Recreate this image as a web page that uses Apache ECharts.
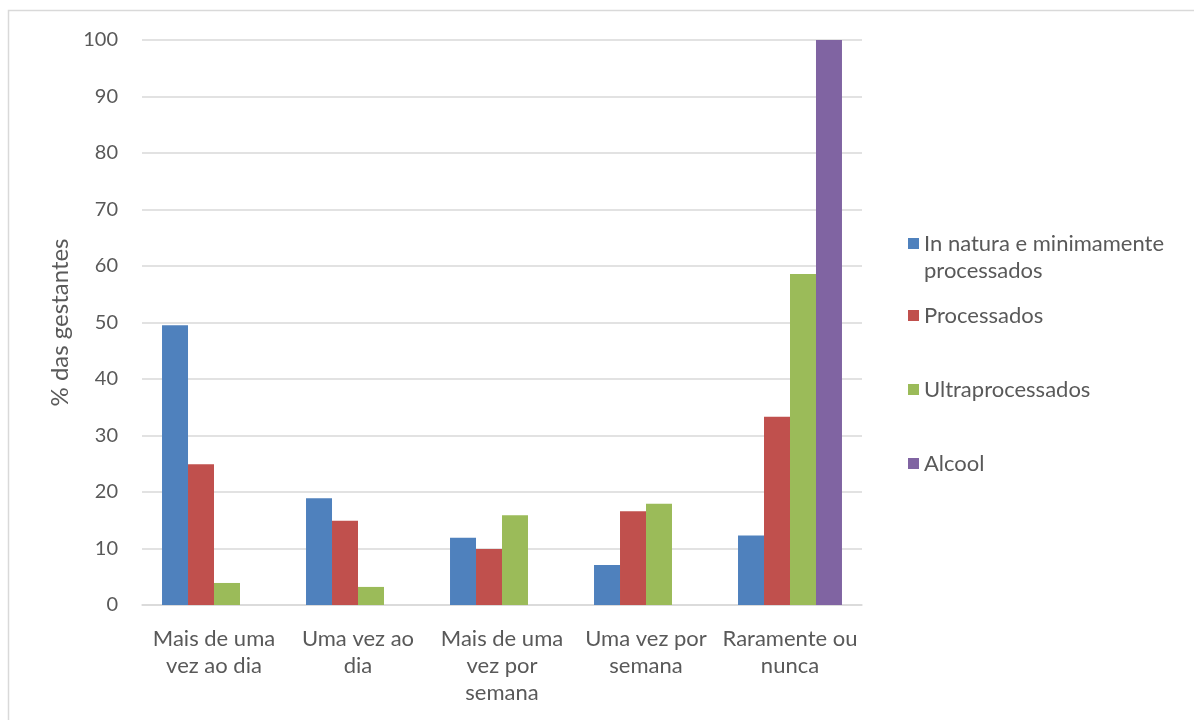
<!DOCTYPE html>
<html>
<head>
<meta charset="utf-8">
<script src="https://cdn.jsdelivr.net/npm/echarts@6/dist/echarts.min.js"></script>
<style>
  html, body { margin: 0; padding: 0; background: #ffffff; }
  #chart { width: 1194px; height: 720px; }
</style>
</head>
<body>
<div id="chart"></div>
<script>
// Frequency of consumption by food group
const categories = [
  'Mais de uma\nvez ao dia',
  'Uma vez ao\ndia',
  'Mais de uma\nvez por\nsemana',
  'Uma vez por\nsemana',
  'Raramente ou\nnunca'
];
const seriesNames = ['In natura e minimamente processados', 'Processados', 'Ultraprocessados', 'Alcool'];
const inNatura = [49.5, 18.9, 11.9, 7.1, 12.3];
const processados = [24.9, 14.9, 9.9, 16.6, 33.3];
const ultraprocessados = [3.9, 3.2, 15.9, 17.9, 58.6];
const alcool = [null, null, null, null, 100];
const yTicks = [0, 10, 20, 30, 40, 50, 60, 70, 80, 90, 100];

const colors = ['#4F81BD', '#C0504D', '#9BBB59', '#8064A2'];
const FONT = 'Lato, "Open Sans", sans-serif';
const TEXT = '#595959';
const FS = 22;

const chart = echarts.init(document.getElementById('chart'));

function legendAt(name, top, extra) {
  return Object.assign({
    data: [name],
    left: 903,
    top: top,
    orient: 'vertical',
    itemWidth: 11,
    itemHeight: 11,
    itemGap: 0,
    icon: 'rect',
    selectedMode: false,
    textStyle: { fontFamily: FONT, fontSize: FS, color: TEXT, lineHeight: 27 }
  }, extra || {});
}

chart.setOption({
  animation: false,
  color: colors,
  graphic: [{
    type: 'rect',
    shape: { x: 8.5, y: 10.5, width: 1200, height: 730 },
    style: { fill: 'none', stroke: '#d9d9d9', lineWidth: 1.5 },
    silent: true
  }],
  grid: { left: 142, right: 332, top: 40, bottom: 115, containLabel: false },
  legend: [
    // blank first line keeps the swatch level with the first line of text
    legendAt(seriesNames[0], 198, {
      formatter: () => ' \nIn natura e minimamente\nprocessados'
    }),
    legendAt(seriesNames[1], 297),
    legendAt(seriesNames[2], 371),
    legendAt(seriesNames[3], 445)
  ],
  xAxis: {
    type: 'category',
    data: categories,
    axisLine: { show: true, lineStyle: { color: '#d9d9d9', width: 1.5 } },
    axisTick: { show: false },
    axisLabel: {
      interval: 0,
      margin: 20,
      fontFamily: FONT,
      fontSize: FS,
      color: TEXT,
      lineHeight: 27,
      verticalAlign: 'top'
    }
  },
  yAxis: {
    type: 'value',
    min: 0,
    max: 100,
    interval: 10,
    name: '% das gestantes',
    nameLocation: 'middle',
    nameGap: 68,
    nameRotate: 90,
    nameTextStyle: { fontFamily: FONT, fontSize: 24, color: TEXT },
    axisLine: { show: false },
    axisTick: { show: false },
    splitLine: { lineStyle: { color: '#d9d9d9', width: 1.5 } },
    axisLabel: {
      margin: 24,
      fontFamily: FONT,
      fontSize: 20,
      color: TEXT,
      formatter: v => (yTicks.indexOf(v) >= 0 ? String(v) : '')
    }
  },
  series: [
    { name: seriesNames[0], type: 'bar', data: inNatura, barGap: '0%', barCategoryGap: '27.8%' },
    { name: seriesNames[1], type: 'bar', data: processados },
    { name: seriesNames[2], type: 'bar', data: ultraprocessados },
    { name: seriesNames[3], type: 'bar', data: alcool }
  ]
});
</script>
</body>
</html>
